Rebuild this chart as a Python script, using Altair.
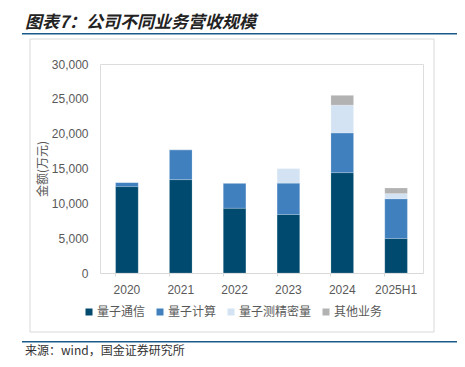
import altair as alt
import pandas as pd

years = ["2020", "2021", "2022", "2023", "2024", "2025H1"]
series = ["量子通信", "量子计算", "量子测精密量", "其他业务"]
comm = [12400, 13400, 9300, 8400, 14400, 4950]
compute = [600, 4300, 3600, 4500, 5700, 5700]
sensing = [0, 0, 0, 2100, 4000, 750]
other = [0, 0, 0, 0, 1400, 800]
colors = ["#004A6F", "#4180BE", "#D3E3F3", "#B2B2B2"]
y_ticks = [0, 5000, 10000, 15000, 20000, 25000, 30000]

rows = []
for vals, name, k in zip([comm, compute, sensing, other], series, range(4)):
    for yr, v in zip(years, vals):
        rows.append({"year": yr, "series": name, "value": v, "ord": k})
df = pd.DataFrame(rows)

dummy = pd.DataFrame({"a": [0]})

FONT = "Liberation Sans"
CJK = "Noto Sans CJK SC"

bars = alt.Chart(df).mark_bar(stroke="#FFFFFF", strokeOpacity=0.35, strokeWidth=0.5).encode(
    x=alt.X("year:N", sort=years, title=None,
            scale=alt.Scale(paddingInner=0.58, paddingOuter=0.29),
            axis=alt.Axis(labelAngle=0, labelFont=FONT, labelFontSize=12, labelColor="#595959",
                          labelPadding=8, domainColor="#D9D9D9", tickColor="#D9D9D9",
                          tickSize=3, bandPosition=0, grid=False)),
    y=alt.Y("value:Q", stack="zero", title="金额(万元)",
            scale=alt.Scale(domain=[0, 30000], nice=False),
            axis=alt.Axis(values=y_ticks, format=",d", labelFont=FONT, labelFontSize=12,
                          labelColor="#595959", labelPadding=12, domain=False, ticks=False,
                          grid=False, titleFont=CJK, titleFontSize=12, titleFontWeight="normal",
                          titleColor="#595959", titlePadding=2)),
    color=alt.Color("series:N", sort=series,
                    scale=alt.Scale(domain=series, range=colors),
                    legend=alt.Legend(title=None, orient="none", legendX=-17, legendY=242,
                                      direction="horizontal", symbolType="square",
                                      symbolSize=49, symbolStrokeWidth=0, labelFont=CJK,
                                      labelFontSize=12, labelColor="#595959", labelOffset=2,
                                      columnPadding=8, padding=0)),
    order=alt.Order("ord:Q", sort="ascending"),
)

frame = alt.Chart(dummy).mark_rect(fillOpacity=0, stroke="#D9D9D9", strokeWidth=1).encode(
    x=alt.value(-70), x2=alt.value(334), y=alt.value(-25), y2=alt.value(268))

top_line = alt.Chart(dummy).mark_rect(color="#1A5A8A").encode(
    x=alt.value(-78), x2=alt.value(370), y=alt.value(-31), y2=alt.value(-29.5))
bot_line = alt.Chart(dummy).mark_rect(color="#1A5A8A").encode(
    x=alt.value(-78), x2=alt.value(370), y=alt.value(277), y2=alt.value(278.5))

title = alt.Chart(dummy).mark_text(
    text="图表7：公司不同业务营收规模", font=CJK, fontSize=17, fontWeight="bold",
    fontStyle="italic", align="left", baseline="alphabetic", color="#222222").encode(
    x=alt.value(-75), y=alt.value(-36))

source = alt.Chart(dummy).mark_text(
    text="来源：wind，国金证券研究所", font=CJK, fontSize=12, align="left",
    baseline="middle", color="#333333").encode(
    x=alt.value(-75), y=alt.value(287))

chart = alt.layer(frame, bars, top_line, bot_line, title, source).properties(
    width=323, height=209,
    autosize=alt.AutoSizeParams(type="none"),
    padding={"left": 92, "top": 56, "right": 34, "bottom": 84},
).configure_view(stroke=None).configure(background="white")

chart.save("out.html", embed_options={"renderer": "svg", "actions": False})
